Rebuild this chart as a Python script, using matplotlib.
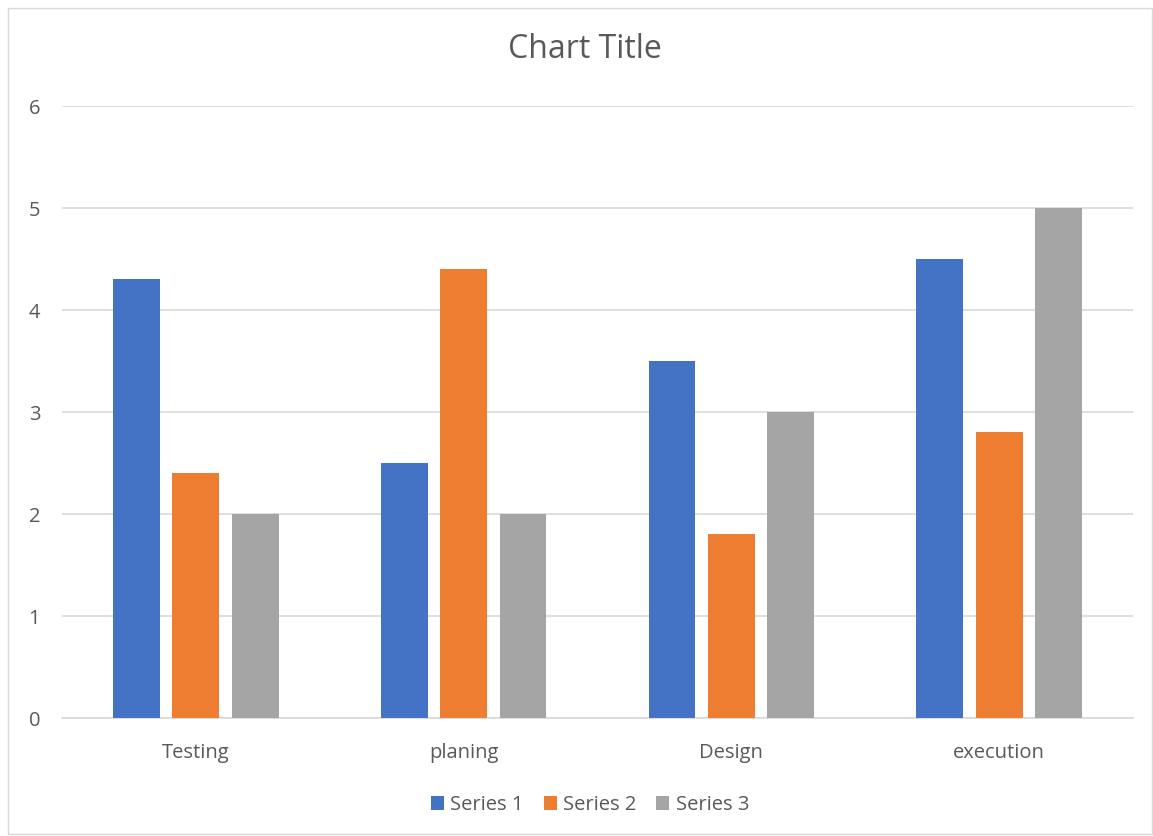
import numpy as np
import matplotlib
matplotlib.use("Agg")
from matplotlib import pyplot as plt
from matplotlib.patches import Rectangle

# data
categories = ["Testing", "planing", "Design", "execution"]
series_names = ["Series 1", "Series 2", "Series 3"]
series1 = [4.3, 2.5, 3.5, 4.5]
series2 = [2.4, 4.4, 1.8, 2.8]
series3 = [2, 2, 3, 5]
colors = ["#4472C4", "#ED7D31", "#A5A5A5"]

plt.rcParams["font.family"] = ["Open Sans", "DejaVu Sans"]
text_col = "#595959"

fig = plt.figure(figsize=(11.53, 8.36), dpi=100)
# chart border
fig.patches.append(Rectangle((8 / 1153, 0.002), 1 - 9 / 1153, 1 - 8 / 836 - 0.002,
                             transform=fig.transFigure, fill=False,
                             edgecolor="#D9D9D9", linewidth=1))

ax = fig.add_axes([62 / 1153, 1 - 718 / 836, (1133 - 62) / 1153, (718 - 106) / 836])

x = np.arange(len(categories))
w = 0.175
off = 0.222
for i, (vals, name) in enumerate(zip([series1, series2, series3], series_names)):
    ax.bar(x + (i - 1) * off, vals, width=w, color=colors[i], label=name, zorder=3)

ax.set_xlim(-0.5, 3.5)
ax.set_ylim(0, 6)
ax.set_yticks(range(7))
ax.set_xticks(x)
ax.set_xticklabels(categories)
ax.tick_params(axis="both", length=0, labelsize=14.5, colors=text_col)
ax.tick_params(axis="x", pad=18)
ax.tick_params(axis="y", pad=24)
for lbl in ax.get_yticklabels():
    lbl.set_horizontalalignment("left")
ax.grid(axis="y", color="#D9D9D9", linewidth=1.2, zorder=0)
for s in ["top", "right", "left"]:
    ax.spines[s].set_visible(False)
ax.spines["bottom"].set_color("#D9D9D9")
ax.spines["bottom"].set_linewidth(1.2)

fig.text(585 / 1153, 1 - 50 / 836, "Chart Title", ha="center", va="center",
         fontsize=23, color=text_col)

fig.legend(loc="center", bbox_to_anchor=(590 / 1153, 1 - 805 / 836), ncol=3,
           frameon=False, fontsize=14.5, labelcolor=text_col, handlelength=0.65,
           handleheight=0.65, handletextpad=0.3, columnspacing=1.0)

fig.savefig("out.png", dpi=100)
